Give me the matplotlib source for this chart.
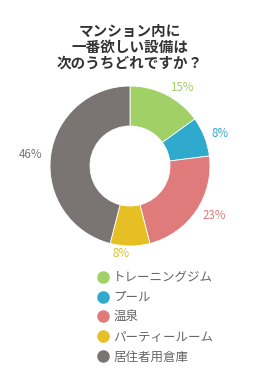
import matplotlib
matplotlib.use("Agg")
import matplotlib.pyplot as plt
from matplotlib.lines import Line2D

plt.rcParams['font.family'] = ['Noto Sans CJK JP', 'DejaVu Sans']

categories = ["トレーニングジム", "プール", "温泉", "パーティールーム", "居住者用倉庫"]
values = [15, 8, 23, 8, 46]
colors = ["#a0d066", "#2fa9cc", "#e07b7c", "#e6bf24", "#7a7472"]
title = "マンション内に\n一番欲しい設備は\n次のうちどれですか？"

W, H = 260, 370
fig = plt.figure(figsize=(W / 100, H / 100), dpi=100)
fig.patch.set_facecolor("white")

cx, cy, R = 130, 370 - 166, 80
half = 1.5 * R
ax = fig.add_axes([(cx - half) / W, (cy - half) / H, 2 * half / W, 2 * half / H])

labels = [f"{v}%" for v in values]
wedges, texts = ax.pie(values, colors=colors, startangle=90, counterclock=False,
                       radius=1.0, wedgeprops=dict(width=0.5, edgecolor="white", linewidth=0.6),
                       labels=labels, labeldistance=1.1,
                       textprops=dict(fontsize=8.3))
for t, c in zip(texts, colors):
    t.set_color(c)
ax.set_xlim(-1.5, 1.5)
ax.set_ylim(-1.5, 1.5)
ax.set_aspect("equal")
ax.axis("off")

fig.text(0.5, 1 - 47 / H, title, ha="center", va="center", fontsize=10.5,
         fontweight="bold", color="#333333", linespacing=1.0)

handles = [Line2D([], [], marker="o", linestyle="", markersize=8,
                  markerfacecolor=c, markeredgecolor=c) for c in colors]
leg = fig.legend(handles, categories, loc="upper left",
                 bbox_to_anchor=(92 / W, 1 - 266 / H), frameon=False,
                 fontsize=9, handletextpad=0.3, labelspacing=0.55,
                 handlelength=1.0, borderaxespad=0)
for t in leg.get_texts():
    t.set_color("#666666")

fig.savefig("out.png", dpi=100, facecolor="white")
